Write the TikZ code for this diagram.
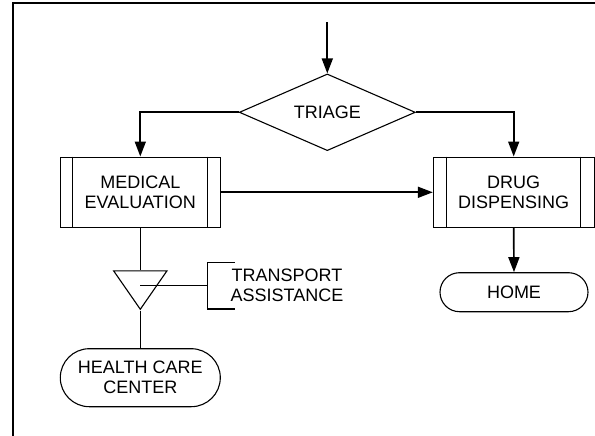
\documentclass[tikz,border=0pt]{standalone}
\usepackage{fontspec}
\setmainfont{Liberation Sans}
\usetikzlibrary{arrows.meta,shapes.geometric,shapes.misc,calc}
\tikzset{
  flowline/.style={-{Triangle[length=15pt,width=11pt]}, line width=1.7pt},
  thinline/.style={line width=1.1pt},
  label/.style={font=\fontsize{18}{20}\selectfont, align=center, inner sep=0pt},
  process/.style={label, draw, thinline, minimum width=160pt, minimum height=70.5pt},
  terminal/.style={label, draw, thinline, rounded rectangle},
}
\begin{document}
\begin{tikzpicture}[x=1pt,y=-1pt]
\useasboundingbox (0,0) rectangle (595,436);
\draw[line width=2pt] (12.5,436) -- (12.5,3.5) -- (595,3.5);

\coordinate (entry) at (327.3,22.3);
\node[label, draw, thinline, diamond, aspect=2.3, minimum width=176pt, minimum height=76.7pt] (triage) at (327.3,112.3) {TRIAGE};
\node[process] (medical) at (140.3,192.3) {MEDICAL\\EVALUATION};
\node[process, minimum width=160.7pt] (drug) at (513.7,192.3) {DRUG\\DISPENSING};
\node[terminal, minimum width=148pt, minimum height=39pt] (home) at (514,292.2) {HOME};
\node[terminal, minimum width=160pt, minimum height=58pt] (health) at (140.3,377.7) {HEALTH CARE\\CENTER};
\node[draw, thinline, isosceles triangle, isosceles triangle stretches, shape border rotate=270, inner sep=0pt,
  minimum width=53.3pt, minimum height=38.4pt, anchor=apex] (transfer) at (140.3,310.7) {};
\node[label] (transport) at (287,285) {TRANSPORT\\ASSISTANCE};

% sidebars of the two process boxes
\draw[thinline] ($(medical.north west)+(13,0)$) -- ($(medical.south west)+(13,0)$);
\draw[thinline] ($(medical.north east)+(-13.3,0)$) -- ($(medical.south east)+(-13.3,0)$);
\draw[thinline] ($(drug.north west)+(14,0)$) -- ($(drug.south west)+(14,0)$);
\draw[thinline] ($(drug.north east)+(-13.7,0)$) -- ($(drug.south east)+(-13.7,0)$);

\draw[flowline] (entry) -- (triage.north);
\draw[flowline] (triage.west) -| (medical.north);
\draw[flowline] (triage.east) -| (drug.north);
\draw[flowline] (medical.east) -- (drug.west);
\draw[flowline] (drug.south) -- (home.north);
\draw[thinline] (medical.south) -- (transfer.lower side);
\draw[thinline] (transfer.apex) -- (health.north);

% bracket of the annotation
\coordinate (note) at (140.3,285.5);
\coordinate (notetop) at (234.7,262.7);
\coordinate (notebot) at (234.7,309);
\coordinate (notemid) at (207.3,285.5);
\draw[thinline] (note) -- (notemid);
\draw[thinline] (notetop) -- (notetop -| notemid) -- (notebot -| notemid) -- (notebot);
\end{tikzpicture}
\end{document}
